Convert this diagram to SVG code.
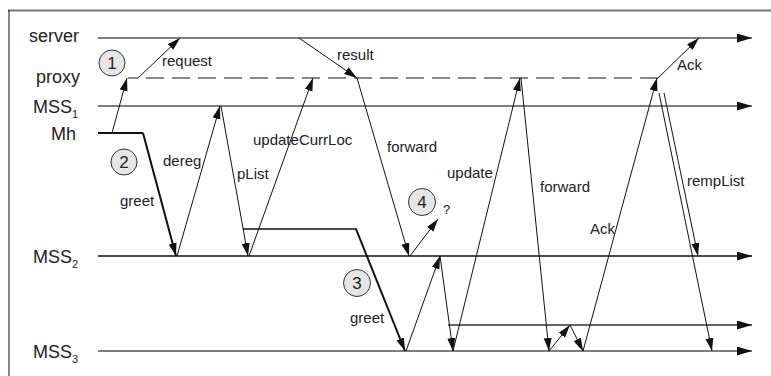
<svg xmlns="http://www.w3.org/2000/svg" width="771" height="376" viewBox="0 0 771 376">
<style>
.axis{font-family:"Liberation Sans",Arial,sans-serif;font-size:18px;fill:#222}
.sub{font-family:"Liberation Sans",Arial,sans-serif;font-size:11px;fill:#222}
.lbl{font-family:"Liberation Sans",Arial,sans-serif;font-size:15px;fill:#222}
.num{font-family:"Liberation Sans",Arial,sans-serif;font-size:17px;fill:#222;text-anchor:middle}
.life{stroke:#555;stroke-width:1.5;fill:none}
.msg{stroke:#111;stroke-width:1;fill:none}
.thick{stroke:#111;stroke-width:2;fill:none}
.circ{fill:#e6e6e6;stroke:#333;stroke-width:1}
</style>
<defs>
<marker id="ah" markerUnits="userSpaceOnUse" markerWidth="14" markerHeight="9" refX="13" refY="4" orient="auto">
<path d="M0,0 L13,4 L0,8 z" fill="#111"/>
</marker>
<marker id="lh" markerUnits="userSpaceOnUse" markerWidth="16" markerHeight="10" refX="15" refY="4.5" orient="auto">
<path d="M0,0 L15,4.5 L0,9 z" fill="#111"/>
</marker>
</defs>
<rect width="771" height="376" fill="#fff"/>
<g id="frame">
<line x1="8" y1="10.5" x2="771" y2="10.5" stroke="#777" stroke-width="2"/>
<line x1="9" y1="10" x2="9" y2="376" stroke="#111" stroke-width="1"/>
</g>
<g id="lifelines">
<g id="server"><text class="axis" x="79" y="42" text-anchor="end">server</text><line class="life" x1="98" y1="38" x2="752" y2="38" marker-end="url(#lh)"/></g>
<g id="proxy"><text class="axis" x="80" y="83" text-anchor="end">proxy</text><line x1="128" y1="78" x2="659" y2="78" stroke="#111" stroke-width="1.2" stroke-dasharray="18 8" stroke-dashoffset="8"/></g>
<g id="mss1"><text class="axis" x="33" y="113">MSS<tspan class="sub" dy="5">1</tspan></text><line class="life" x1="98" y1="106" x2="752" y2="106" marker-end="url(#lh)"/></g>
<g id="mh"><text class="axis" x="76" y="140" text-anchor="end">Mh</text><line class="thick" x1="98" y1="133" x2="143" y2="133" stroke-width="1.5"/></g>
<g id="mss2"><text class="axis" x="33" y="263">MSS<tspan class="sub" dy="5">2</tspan></text><line x1="98" y1="256" x2="752" y2="256" stroke="#111" stroke-width="1.3" marker-end="url(#lh)"/></g>
<g id="mss3"><text class="axis" x="33" y="358">MSS<tspan class="sub" dy="5">3</tspan></text><line class="life" x1="98" y1="351" x2="752" y2="351" marker-end="url(#lh)"/></g>
<g id="mh2"><line x1="448" y1="325" x2="752" y2="325" stroke="#333" stroke-width="1.5" marker-end="url(#lh)"/></g>
</g>
<g id="connectors">
<line class="msg" x1="112" y1="133" x2="127" y2="78" marker-end="url(#ah)"/>
<line class="msg" x1="138" y1="78" x2="180" y2="38" marker-end="url(#ah)"/>
<line class="thick" x1="143" y1="133" x2="176" y2="256" marker-end="url(#ah)"/>
<line class="msg" x1="177" y1="256" x2="220" y2="106" marker-end="url(#ah)"/>
<line class="msg" x1="221" y1="106" x2="248" y2="256" marker-end="url(#ah)"/>
<line class="msg" x1="249" y1="256" x2="313" y2="78" marker-end="url(#ah)"/>
<line x1="243" y1="229" x2="357" y2="229" stroke="#111" stroke-width="1.5"/>
<line class="thick" x1="356" y1="229" x2="405" y2="351" marker-end="url(#ah)"/>
<line class="msg" x1="299" y1="38" x2="357" y2="78" marker-end="url(#ah)"/>
<line class="msg" x1="357" y1="78" x2="409" y2="256" marker-end="url(#ah)"/>
<line class="msg" x1="410" y1="256" x2="438" y2="219" marker-end="url(#ah)"/>
<line class="msg" x1="406" y1="351" x2="440" y2="256" marker-end="url(#ah)"/>
<line class="msg" x1="440" y1="256" x2="453" y2="351" marker-end="url(#ah)"/>
<line class="msg" x1="453" y1="351" x2="520" y2="78" marker-end="url(#ah)"/>
<line class="msg" x1="521" y1="78" x2="549" y2="351" marker-end="url(#ah)"/>
<line class="msg" x1="549" y1="351" x2="570" y2="325" marker-end="url(#ah)"/>
<line class="msg" x1="570" y1="325" x2="583" y2="351" marker-end="url(#ah)"/>
<line class="msg" x1="583" y1="351" x2="657" y2="78" marker-end="url(#ah)"/>
<line class="msg" x1="658" y1="78" x2="699" y2="38" marker-end="url(#ah)"/>
<line class="msg" x1="659" y1="93" x2="712" y2="351" marker-end="url(#ah)"/>
<line class="msg" x1="664" y1="93" x2="698" y2="256" marker-end="url(#ah)"/>
</g>
<g id="labels">
<text class="lbl" x="162" y="66">request</text>
<text class="lbl" x="337" y="60">result</text>
<text class="lbl" x="163" y="166">dereg</text>
<text class="lbl" x="237" y="179">pList</text>
<text class="lbl" x="253" y="145">updateCurrLoc</text>
<text class="lbl" x="387" y="152">forward</text>
<text class="lbl" x="447" y="178">update</text>
<text class="lbl" x="540" y="192">forward</text>
<text class="lbl" x="687" y="186">rempList</text>
<text class="lbl" x="677" y="70">Ack</text>
<text class="lbl" x="590" y="234">Ack</text>
<text class="lbl" x="120" y="206">greet</text>
<text class="lbl" x="350" y="323">greet</text>
<text class="lbl" x="443" y="214" style="font-size:13px">?</text>
</g>
<g id="c1"><circle class="circ" cx="112" cy="63" r="13"/><text class="num" x="112" y="69">1</text></g>
<g id="c2"><circle class="circ" cx="124" cy="162" r="13"/><text class="num" x="124" y="168">2</text></g>
<g id="c3"><circle class="circ" cx="357" cy="283" r="13.5"/><text class="num" x="357" y="289">3</text></g>
<g id="c4"><circle class="circ" cx="422" cy="202" r="13.5"/><text class="num" x="422" y="208">4</text></g>
</svg>
